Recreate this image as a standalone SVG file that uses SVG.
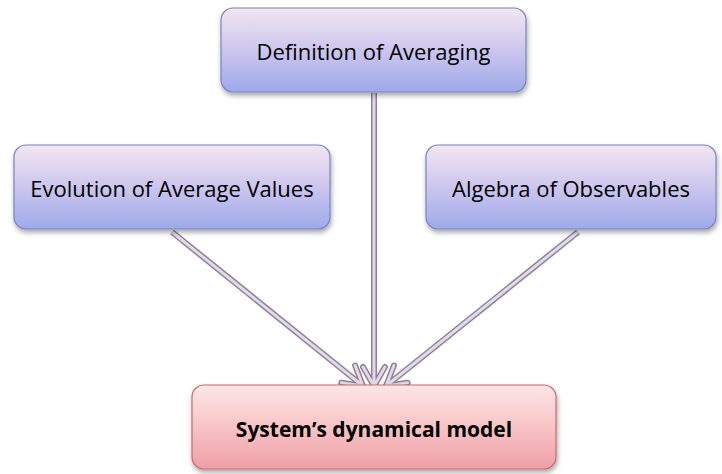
<svg xmlns="http://www.w3.org/2000/svg" width="722" height="474" viewBox="0 0 722 474">
<defs>
<linearGradient id="gb" x1="0" y1="0" x2="0" y2="1">
<stop offset="0" stop-color="#f3e6f0"/>
<stop offset="0.5" stop-color="#ccc6ee"/>
<stop offset="1" stop-color="#9ea9ea"/>
</linearGradient>
<linearGradient id="gr" x1="0" y1="0" x2="0" y2="1">
<stop offset="0" stop-color="#fde6e6"/>
<stop offset="0.5" stop-color="#f8c4c6"/>
<stop offset="1" stop-color="#ee9ea6"/>
</linearGradient>
<filter id="sh" x="-10%" y="-10%" width="120%" height="130%">
<feDropShadow dx="1" dy="3" stdDeviation="2.5" flood-color="#000" flood-opacity="0.35"/>
</filter>
<marker id="mo" markerUnits="userSpaceOnUse" viewBox="-24 -15 28 30" markerWidth="28" markerHeight="30" refX="0" refY="0" orient="auto">
<path d="M-19,-11 L0,0 L-19,11" fill="none" stroke="#8a8398" stroke-width="6" stroke-linecap="round" stroke-linejoin="round"/>
</marker>
<marker id="mi" markerUnits="userSpaceOnUse" viewBox="-24 -15 28 30" markerWidth="28" markerHeight="30" refX="0" refY="0" orient="auto">
<path d="M-19,-11 L0,0 L-19,11" fill="none" stroke="#e8d6e4" stroke-width="3" stroke-linecap="round" stroke-linejoin="round"/>
</marker>
</defs>
<style>
.box{stroke-width:1.2;filter:url(#sh)}
.b{fill:url(#gb);stroke:#7884c4}
.r{fill:url(#gr);stroke:#d0676c}
.t{font-family:"Open Sans","Liberation Sans",sans-serif;font-size:22px;fill:#000;text-anchor:middle}
.tb{font-family:"Open Sans","Liberation Sans",sans-serif;font-size:21px;font-weight:bold;fill:#000;text-anchor:middle}
.o{fill:none;stroke:#8a8398;stroke-width:6;stroke-linecap:butt;marker-end:url(#mo)}
.i{fill:none;stroke:#e6d8ea;stroke-width:3;stroke-linecap:butt;marker-end:url(#mi)}
</style>
<g id="connectors">
<line class="o" x1="374" y1="93" x2="374" y2="386"/>
<line class="i" x1="374" y1="93" x2="374" y2="386"/>
<line class="o" x1="172" y1="232" x2="363" y2="386"/>
<line class="i" x1="172" y1="232" x2="363" y2="386"/>
<line class="o" x1="578" y1="232" x2="386" y2="386"/>
<line class="i" x1="578" y1="232" x2="386" y2="386"/>
</g>
<g id="n-def">
<rect class="box b" x="221" y="8" width="305" height="84" rx="12"/>
<text class="t" x="373.5" y="60">Definition of Averaging</text>
</g>
<g id="n-evo">
<rect class="box b" x="14" y="145" width="316" height="84" rx="12"/>
<text class="t" x="172" y="197">Evolution of Average Values</text>
</g>
<g id="n-alg">
<rect class="box b" x="426" y="145" width="290" height="84" rx="12"/>
<text class="t" x="571" y="197">Algebra of Observables</text>
</g>
<g id="n-sys">
<rect class="box r" x="192" y="385" width="364" height="84" rx="12"/>
<text class="tb" x="374" y="437">System’s dynamical model</text>
</g>
</svg>
